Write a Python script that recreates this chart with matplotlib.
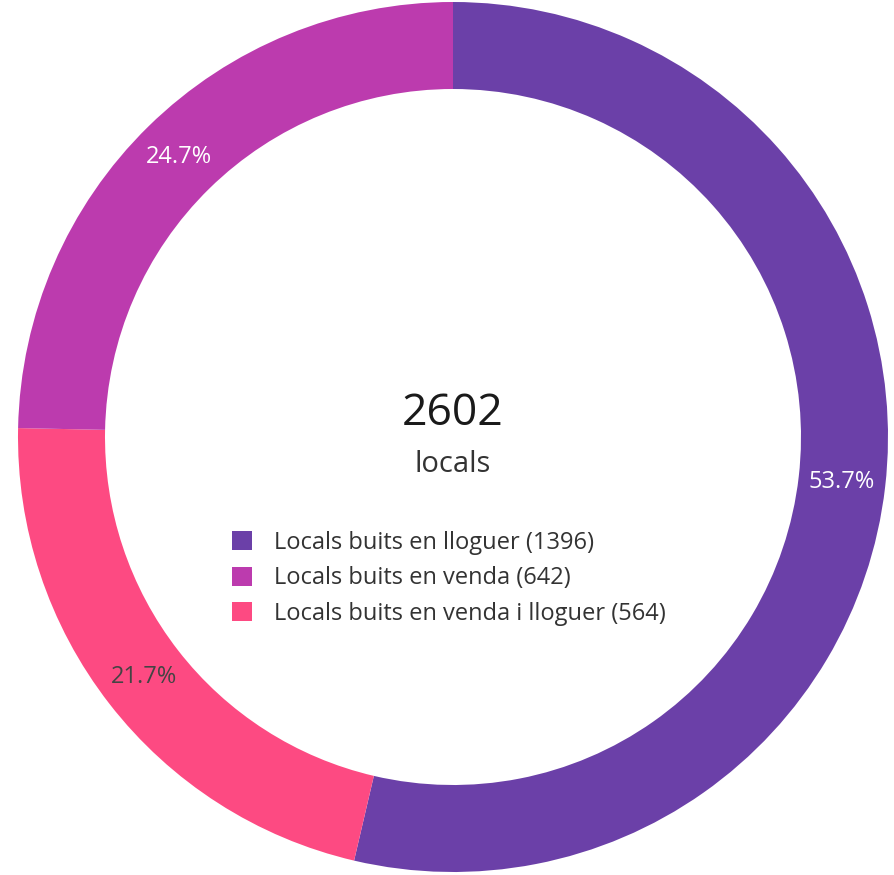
import matplotlib.pyplot as plt

# données
categories = ['Locals buits en lloguer', 'Locals buits en venda i lloguer', 'Locals buits en venda']
valeurs = [1396, 564, 642]
couleurs = ['#6b40a8', '#fd4a82', '#bc3bae']
couleurs_texte = ['white', '#444444', 'white']
total = 2602
unite = 'locals'
ordre_legende = [0, 2, 1]

plt.rcParams['font.family'] = ['Open Sans', 'DejaVu Sans']

fig = plt.figure(figsize=(8.94, 8.75), dpi=100)
ax = fig.add_axes([0, 0, 1, 1])

R = 435.0
cx, cy = 453.0, 437.0

wedges, textes, autotextes = ax.pie(
    valeurs, colors=couleurs, startangle=90, counterclock=False,
    radius=1.0, wedgeprops=dict(width=0.2, linewidth=0),
    autopct='%1.1f%%', pctdistance=0.9, textprops=dict(fontsize=17),
    frame=True,
)
for t, c in zip(autotextes, couleurs_texte):
    t.set_color(c)
ax.set_xlim(-cx / R, (894 - cx) / R)
ax.set_ylim(-(875 - cy) / R, cy / R)
ax.set_aspect('equal')
ax.axis('off')

# texte central
ax.text(0, (cy - 414) / R, str(total), ha='center', va='center', fontsize=32, color='#1a1a1a')
ax.text(0, (cy - 465) / R, unite, ha='center', va='center', fontsize=21, color='#333333')

# légende
handles = [wedges[i] for i in ordre_legende]
labels = [f'{categories[i]} ({valeurs[i]})' for i in ordre_legende]
leg = fig.legend(handles, labels, loc='upper left',
                 bbox_to_anchor=(232 / 894, 1 - 531 / 875),
                 frameon=False, fontsize=17, handlelength=0.85, handleheight=0.85,
                 handletextpad=0.95, labelspacing=0.48, borderpad=0, borderaxespad=0)
for t in leg.get_texts():
    t.set_color('#333333')

fig.savefig('out.png', dpi=100)
